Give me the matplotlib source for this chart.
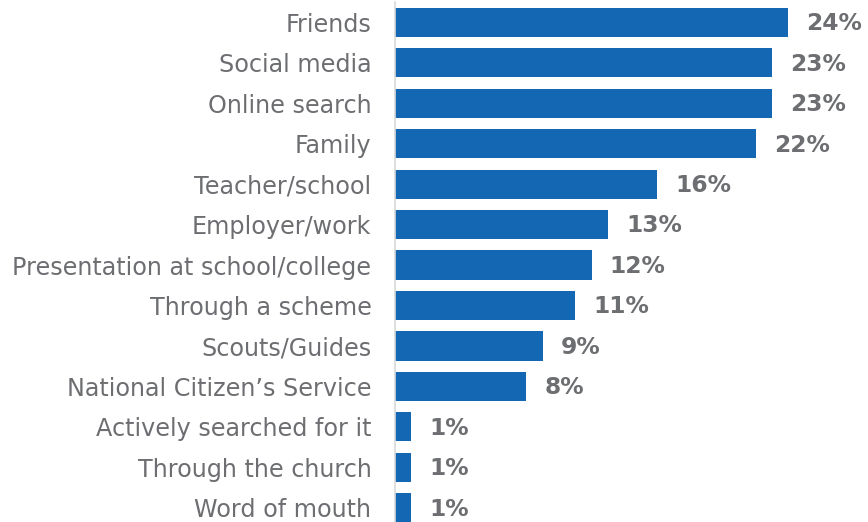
import matplotlib.pyplot as plt

plt.rcParams['font.family'] = ['DejaVu Sans']

categories = ['Friends', 'Social media', 'Online search', 'Family', 'Teacher/school',
              'Employer/work', 'Presentation at school/college', 'Through a scheme',
              'Scouts/Guides', 'National Citizen\u2019s Service', 'Actively searched for it',
              'Through the church', 'Word of mouth']
values = [24, 23, 23, 22, 16, 13, 12, 11, 9, 8, 1, 1, 1]

bar_color = '#1467b3'
text_color = '#6d6e71'

fig = plt.figure(figsize=(8.68, 5.22), dpi=100)
ax = fig.add_axes([395 / 868, 0.0, 459 / 868, 520 / 522])

pos = list(range(len(categories)))
ax.barh(pos, values, height=0.72, color=bar_color)
ax.set_xlim(0, 28)
ax.set_ylim(12.35, -0.5)

# value labels to the right of each bar
for y, v in zip(pos, values):
    ax.annotate('{}%'.format(v), (v, y), xytext=(13, -1), textcoords='offset points',
                va='center', ha='left', fontsize=16.8, fontweight='bold',
                color=text_color, annotation_clip=False)

ax.set_yticks(pos)
ax.set_yticklabels(categories, fontsize=17.2, color=text_color)
ax.tick_params(axis='y', length=0, pad=17)
ax.set_xticks([])
for side in ['top', 'right', 'bottom']:
    ax.spines[side].set_visible(False)
ax.spines['left'].set_color('#d9d9d9')
ax.spines['left'].set_linewidth(1.2)

fig.savefig('out.png', dpi=100)
